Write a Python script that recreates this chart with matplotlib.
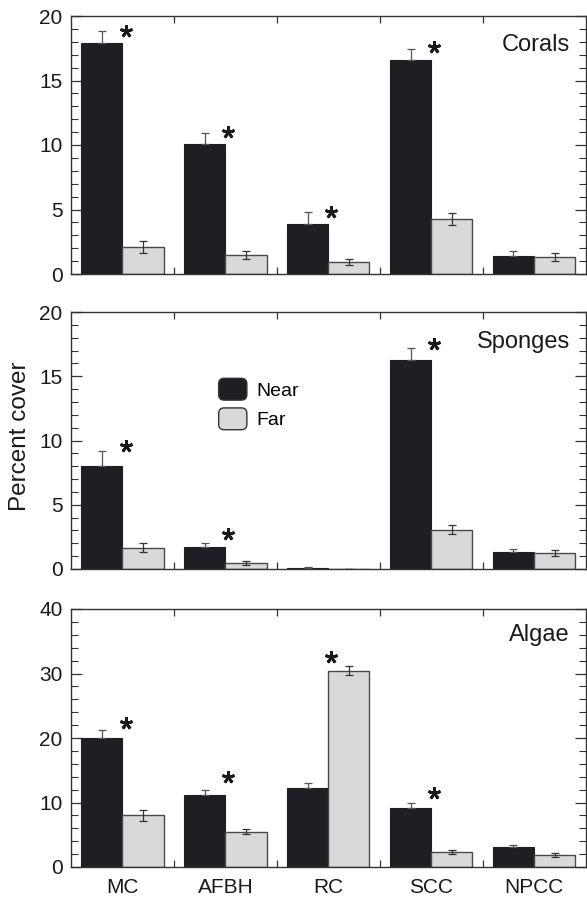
import matplotlib
matplotlib.use("Agg")
import matplotlib.pyplot as plt
import numpy as np
from matplotlib.patches import FancyBboxPatch, Patch
from matplotlib.legend_handler import HandlerPatch
from matplotlib.ticker import MultipleLocator

plt.rcParams['font.family'] = ['Liberation Sans', 'DejaVu Sans']

sites = ['MC', 'AFBH', 'RC', 'SCC', 'NPCC']

# Corals
coral_near = [17.9, 10.1, 3.9, 16.6, 1.4]
coral_near_err = [0.9, 0.85, 0.9, 0.85, 0.35]
coral_far = [2.1, 1.5, 0.95, 4.25, 1.3]
coral_far_err = [0.45, 0.3, 0.25, 0.45, 0.3]
coral_star = [18.8, 11.0, 4.8, 17.6, None]

# Sponges
sponge_near = [8.0, 1.7, 0.1, 16.25, 1.3]
sponge_near_err = [1.15, 0.3, 0.05, 0.95, 0.25]
sponge_far = [1.65, 0.5, 0.02, 3.05, 1.25]
sponge_far_err = [0.35, 0.15, 0.0, 0.35, 0.25]
sponge_star = [9.6, 2.7, None, 17.5, None]

# Algae
algae_near = [20.0, 11.2, 12.2, 9.1, 3.05]
algae_near_err = [1.2, 0.7, 0.8, 0.75, 0.4]
algae_far = [8.0, 5.5, 30.4, 2.3, 1.9]
algae_far_err = [0.8, 0.45, 0.7, 0.35, 0.3]
algae_star = [22.3, 13.9, 32.6, 11.4, None]

panels = [
    ('Corals', coral_near, coral_near_err, coral_far, coral_far_err, coral_star, 20, 5, 1),
    ('Sponges', sponge_near, sponge_near_err, sponge_far, sponge_far_err, sponge_star, 20, 5, 1),
    ('Algae', algae_near, algae_near_err, algae_far, algae_far_err, algae_star, 40, 10, 2),
]

near_col = '#1e1f22'
far_col = '#d8d9db'
edge_col = '#4a4a4a'

fig = plt.figure(figsize=(5.87, 8.99), dpi=100)
W, H = 587, 899
ax_boxes = [(16, 274), (312, 569), (609, 867)]
left_px, right_px = 71, 585.5
label_y = [0.888, 0.883, 0.899]

x = np.arange(len(sites))
w = 0.4

axes = []
for k, (name, nr, nre, fr, fre, stars, ymax, maj, mnr) in enumerate(panels):
    top, bot = ax_boxes[k]
    ax = fig.add_axes([left_px / W, 1 - bot / H, (right_px - left_px) / W, (bot - top) / H])
    axes.append(ax)

    ax.bar(x - w / 2, nr, w, color=near_col, edgecolor=near_col, linewidth=0.8, zorder=2)
    ax.bar(x + w / 2, fr, w, color=far_col, edgecolor=edge_col, linewidth=1.0, zorder=2)
    # near bars: only the upper whisker shows above the dark bar
    ax.errorbar(x - w / 2, nr, yerr=[np.zeros(len(nre)), nre], fmt='none', ecolor='#555555',
                elinewidth=0.9, capsize=3, capthick=0.9, zorder=3)
    ax.errorbar(x + w / 2, fr, yerr=fre, fmt='none', ecolor='#333333',
                elinewidth=0.9, capsize=3, capthick=0.9, zorder=3)

    for i, s in enumerate(stars):
        if s is not None:
            ax.plot(i + 0.03, s, marker=(5, 2, 0), ms=9, mew=2.0,
                    color='#1a1a1a', zorder=4, clip_on=False)

    ax.set_xlim(-0.5, len(sites) - 0.5)
    ax.set_ylim(0, ymax)
    ax.yaxis.set_major_locator(MultipleLocator(maj))
    ax.yaxis.set_minor_locator(MultipleLocator(mnr))
    ax.set_xticks(x[:-1] + 0.5)
    ax.set_xticklabels([])
    if k == 2:
        ax.set_xticks(x, minor=True)
        ax.set_xticklabels(sites, minor=True)
    ax.tick_params(axis='x', which='major', direction='in', length=5, width=0.9,
                   top=True, bottom=True, color='#333333')
    ax.tick_params(axis='x', which='minor', length=0, pad=8, labelsize=15,
                   labelcolor='#1a1a1a')
    ax.tick_params(axis='y', which='major', direction='in', length=8, width=0.9,
                   left=True, right=True, labelsize=15, pad=6, color='#333333',
                   labelcolor='#1a1a1a')
    ax.tick_params(axis='y', which='minor', direction='in', length=5, width=0.8,
                   left=True, right=True, color='#333333')
    for sp in ax.spines.values():
        sp.set_color('#333333')
        sp.set_linewidth(1.0)

    ax.text(0.97, label_y[k], name, transform=ax.transAxes, ha='right', va='center',
            fontsize=17, color='#1a1a1a')

# legend with rounded swatches
def round_patch(legend, orig_handle, xdescent, ydescent, width, height, fontsize):
    return FancyBboxPatch((-xdescent, -ydescent), width, height,
                          boxstyle='round,pad=0,rounding_size=4')

handles = [Patch(facecolor=near_col, edgecolor='#333333', linewidth=1.0, label='Near'),
           Patch(facecolor=far_col, edgecolor='#333333', linewidth=1.0, label='Far')]
axes[1].legend(handles=handles, loc='upper left', bbox_to_anchor=(0.287, 0.742),
               frameon=False, fontsize=14, handlelength=1.45, handleheight=1.35,
               handletextpad=0.5, labelspacing=0.4, borderpad=0, borderaxespad=0,
               handler_map={Patch: HandlerPatch(patch_func=round_patch)})

fig.text(20 / W, 1 - 436 / H, 'Percent cover', rotation=90, ha='center', va='center',
         fontsize=17.5, color='#1a1a1a')

fig.savefig('out.png', dpi=100)
